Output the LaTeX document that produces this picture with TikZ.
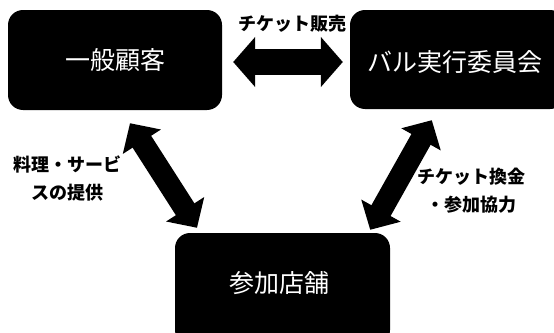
\documentclass[tikz,border=0pt]{standalone}
\usepackage{fontspec}
\setmainfont{Noto Sans CJK JP}
\newfontfamily\jpfont{Noto Sans CJK JP}
\usetikzlibrary{arrows.meta}
\tikzset{
  boxnode/.style={fill=black, rounded corners=15pt, text=white, inner sep=0pt,
    font=\jpfont\fontsize{25}{30}\selectfont},
  lbl/.style={font=\jpfont\bfseries\fontsize{18}{28}\selectfont, align=center, inner sep=0pt},
  bigarrowh/.style={line width=26pt, {Triangle[length=22pt,width=49pt]}-{Triangle[length=22pt,width=49pt]}},
  bigarrowd/.style={line width=22pt, {Triangle[length=22pt,width=44pt]}-{Triangle[length=22pt,width=44pt]}}
}
\begin{document}
\begin{tikzpicture}[x=1pt,y=-1pt]
\useasboundingbox (0,0) rectangle (554,332);
\fill[white] (0,0) rectangle (554,332);
\node[boxnode, minimum width=214pt, minimum height=100pt] (cust) at (115,60) {一般顧客};
\node[boxnode, minimum width=215pt, minimum height=99pt] (comm) at (457.5,59.5) {};
\node[font=\jpfont\fontsize{25}{30}\selectfont, text=white, inner sep=0pt] (commtext) at (455,62) {バル実行委員会};
\node[boxnode, minimum width=215pt, minimum height=112pt] (shop) at (282.5,289) {};
\node[font=\jpfont\fontsize{25}{30}\selectfont, text=white, inner sep=0pt] (shoptext) at (279,283) {参加店舗};
\draw[bigarrowh] ([xshift=11pt,yshift=-2pt]cust.east) -- ([xshift=-7pt,yshift=-2.5pt]comm.west);
\draw[bigarrowd] ([shift={(15,13)}]cust.south) -- ([shift={(-85.5,-5)}]shop.north);
\draw[bigarrowd] ([shift={(82,11)}]comm.south west) -- ([shift={(-20,-3)}]shop.north east);
\node[lbl] (l1) at (292,24) {チケット販売};
\node[lbl] (l2) at (67,178) {料理・サービ\\スの提供};
\node[lbl] (l3) at (471,191) {チケット換金\\・参加協力};
\end{tikzpicture}
\end{document}
